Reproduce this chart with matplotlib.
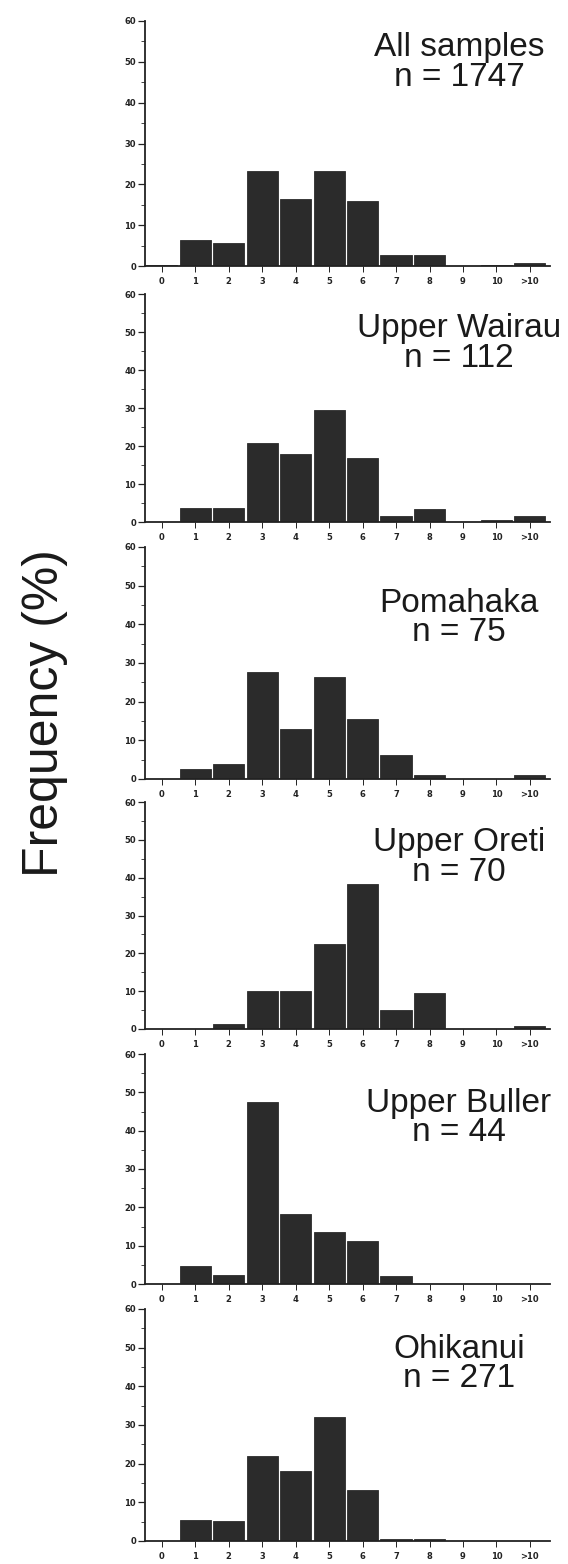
import matplotlib
matplotlib.use("Agg")
import matplotlib.pyplot as plt
from matplotlib import font_manager
from matplotlib.ticker import MultipleLocator

# ---------------- data ----------------
categories = ["0", "1", "2", "3", "4", "5", "6", "7", "8", "9", "10", ">10"]

site_names = ["All samples", "Upper Wairau", "Pomahaka", "Upper Oreti",
              "Upper Buller", "Ohikanui"]
sample_sizes = [1747, 112, 75, 70, 44, 271]

all_samples  = [0.3, 6.4, 5.6, 23.3, 16.5, 23.3, 15.9, 2.6, 2.8, 0.1, 0.2, 0.7]
upper_wairau = [0.0, 3.8, 3.8, 20.8, 18.0, 29.6, 16.9, 1.5, 3.3, 0.0, 0.5, 1.5]
pomahaka     = [0.0, 2.7, 3.9, 27.7, 13.0, 26.4, 15.6, 6.3, 1.1, 0.0, 0.0, 1.1]
upper_oreti  = [0.0, 0.0, 1.2, 10.0, 10.0, 22.5, 38.2, 5.1, 9.5, 0.0, 0.0, 0.8]
upper_buller = [0.0, 4.6, 2.3, 47.5, 18.2, 13.5, 11.1, 2.0, 0.0, 0.0, 0.0, 0.0]
ohikanui     = [0.0, 5.4, 5.3, 21.9, 18.1, 32.1, 13.2, 0.5, 0.5, 0.0, 0.0, 0.0]

series = [all_samples, upper_wairau, pomahaka, upper_oreti, upper_buller, ohikanui]

# ---------------- layout ----------------
W, H = 568, 1564
fig = plt.figure(figsize=(W / 100, H / 100), dpi=100)

# pixel rows (top = value 60, bottom = value 0) of each panel
panel_rows = [(21, 266), (294, 522), (547, 779), (802, 1029), (1054, 1284), (1309, 1541)]
title_y = [0.831, 0.782, 0.694, 0.755, 0.722, 0.763]
ax_left_px, ax_right_px = 145, 550

avail = {f.name for f in font_manager.fontManager.ttflist}
title_font = "Liberation Sans" if "Liberation Sans" in avail else "DejaVu Sans"

bar_color = "#2b2b2b"
x = list(range(len(categories)))

for i, (vals, name, n) in enumerate(zip(series, site_names, sample_sizes)):
    top_px, bot_px = panel_rows[i]
    ax = fig.add_axes([ax_left_px / W, 1 - bot_px / H,
                       (ax_right_px - ax_left_px) / W, (bot_px - top_px) / H])
    ax.bar(x, vals, width=0.93, color=bar_color, edgecolor=bar_color,
           linewidth=0.6, zorder=1)
    ax.set_xlim(-0.5, 11.6)
    ax.set_ylim(0, 60)
    for s in ("top", "right"):
        ax.spines[s].set_visible(False)
    ax.spines["left"].set_linewidth(1.3)
    ax.spines["bottom"].set_linewidth(1.3)
    ax.spines["left"].set_color("#222222")
    ax.spines["bottom"].set_color("#222222")
    ax.set_xticks(x)
    ax.set_xticklabels(categories)
    ax.yaxis.set_major_locator(MultipleLocator(10))
    ax.yaxis.set_minor_locator(MultipleLocator(5))
    ax.tick_params(axis="y", which="major", length=5, width=0.9, pad=1.5,
                   labelsize=6, colors="#222222")
    ax.tick_params(axis="y", which="minor", length=3, width=0.7, colors="#444444")
    ax.tick_params(axis="x", which="major", length=4, width=0.7, pad=4,
                   labelsize=6, colors="#222222")
    for lab in ax.get_xticklabels() + ax.get_yticklabels():
        lab.set_fontweight("bold")
        lab.set_family("DejaVu Sans")
    ax.text(0.775, title_y[i], f"{name}\nn = {n}", transform=ax.transAxes,
            ha="center", va="center", fontsize=24, family=title_font,
            linespacing=0.95, color="#1a1a1a")

if "Liberation Sans Narrow" in avail:
    ylab_font, ylab_size = "Liberation Sans Narrow", 45
else:
    ylab_font, ylab_size = title_font, 36
fig.text(45 / W, 1 - 713 / H, "Frequency (%)", rotation=90, ha="center",
         va="center", fontsize=ylab_size, family=ylab_font, color="#1a1a1a")

fig.savefig("out.png", dpi=100, facecolor="white")
